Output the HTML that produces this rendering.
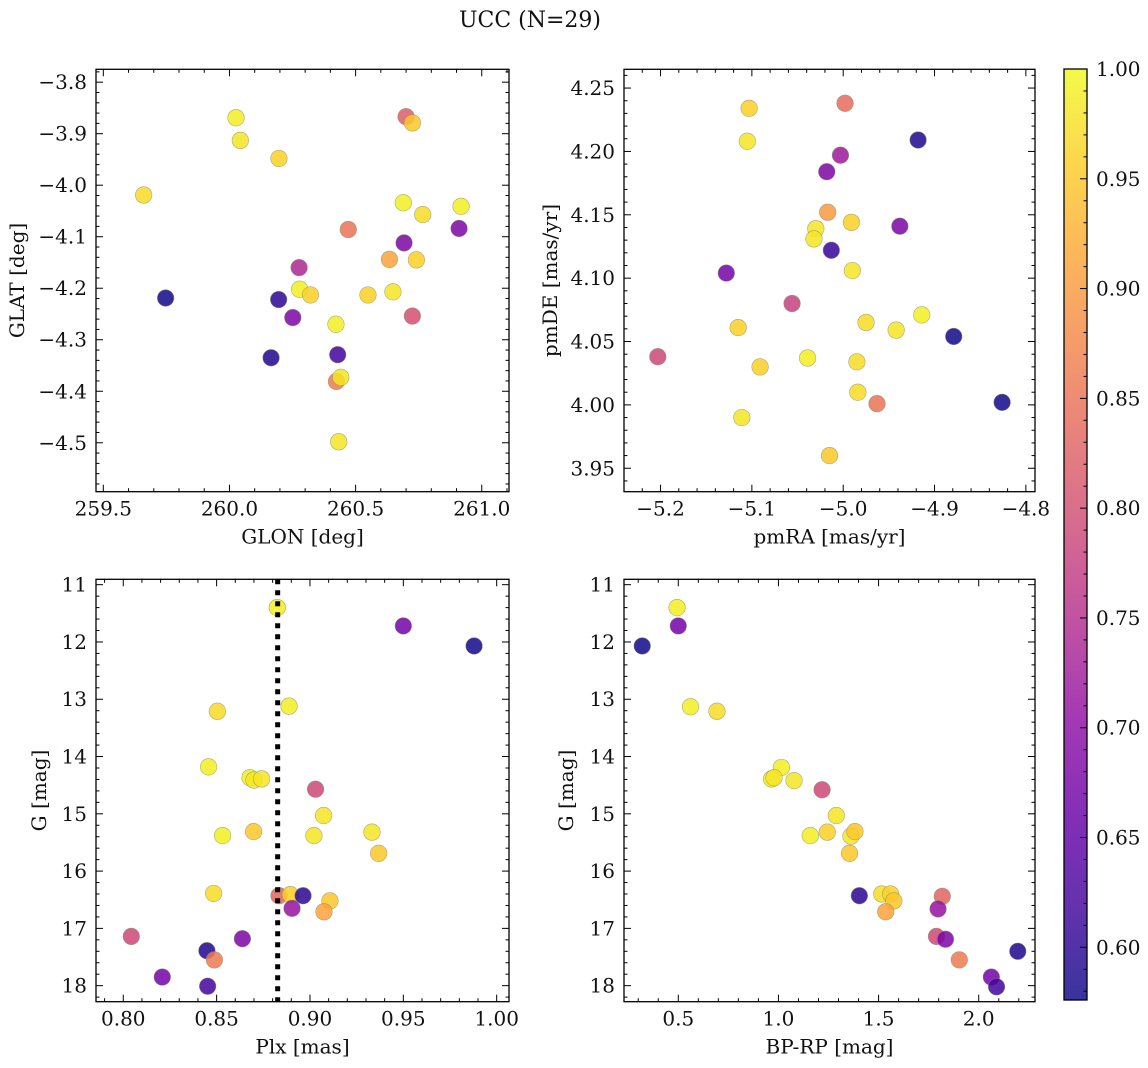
<!DOCTYPE html>
<html><head><meta charset="utf-8"><style>
html,body{margin:0;padding:0;background:#fff;}
svg{display:block;font-family:"DejaVu Serif","Liberation Serif",serif;}
</style></head><body>
<svg id="fig" width="1148" height="1068" viewBox="0 0 1148 1068" xmlns="http://www.w3.org/2000/svg">
<text x="530" y="27" font-size="22" text-anchor="middle" fill="#111">UCC (N=29)</text>
</svg>
<script>
// ---- data ----
const glon = [260.026,260.043,260.196,259.66,260.70,260.725,260.689,260.766,260.918,260.471,260.91,260.692,260.634,260.741,260.276,260.278,260.321,260.549,260.648,259.747,260.195,260.251,260.725,260.422,260.165,260.429,260.424,260.441,260.433];
const glat = [-3.869,-3.913,-3.948,-4.019,-3.867,-3.879,-4.034,-4.057,-4.041,-4.086,-4.084,-4.112,-4.144,-4.145,-4.160,-4.202,-4.213,-4.213,-4.207,-4.219,-4.222,-4.257,-4.254,-4.270,-4.335,-4.329,-4.381,-4.373,-4.498];
const prob1 = [0.99,0.98,0.96,0.97,0.82,0.95,0.99,0.97,0.99,0.85,0.68,0.68,0.91,0.96,0.74,0.99,0.96,0.96,0.98,0.58,0.60,0.68,0.80,0.99,0.59,0.62,0.86,0.98,0.98];
const pmra = [-5.103,-4.998,-5.105,-4.918,-5.003,-5.018,-5.017,-4.991,-5.030,-5.032,-4.938,-5.013,-5.128,-4.990,-5.056,-5.115,-4.975,-4.942,-4.914,-4.879,-5.203,-5.091,-5.039,-4.985,-4.984,-4.963,-4.826,-5.111,-5.015];
const pmde = [4.234,4.238,4.208,4.209,4.197,4.184,4.152,4.144,4.139,4.131,4.141,4.122,4.104,4.106,4.080,4.061,4.065,4.059,4.071,4.054,4.038,4.030,4.037,4.034,4.010,4.001,4.002,3.990,3.960];
const prob2 = [0.96,0.84,0.98,0.59,0.72,0.68,0.90,0.96,0.98,0.98,0.68,0.61,0.67,0.98,0.78,0.96,0.97,0.98,0.99,0.58,0.79,0.96,0.99,0.97,0.97,0.85,0.58,0.98,0.95];
const plx = [0.8825,0.950,0.9879,0.8888,0.8504,0.8457,0.8679,0.870,0.8741,0.903,0.9073,0.8532,0.8698,0.9021,0.9332,0.9368,0.8484,0.8834,0.8895,0.8963,0.9107,0.8904,0.9075,0.8043,0.8638,0.8448,0.8488,0.8209,0.8452];
const gmag3 = [11.40,11.72,12.07,13.12,13.21,14.18,14.37,14.41,14.39,14.57,15.03,15.38,15.31,15.38,15.32,15.69,16.39,16.43,16.41,16.43,16.52,16.65,16.71,17.14,17.18,17.39,17.55,17.85,18.01];
const prob3 = [0.99,0.67,0.58,0.99,0.97,0.99,0.99,0.98,0.98,0.79,0.98,0.99,0.95,0.98,0.98,0.95,0.97,0.83,0.96,0.60,0.95,0.71,0.91,0.79,0.68,0.59,0.86,0.67,0.62];
const bprp = [0.494,0.5,0.320,0.561,0.693,1.015,0.966,0.978,1.078,1.218,1.289,1.159,1.244,1.362,1.382,1.355,1.516,1.560,1.576,1.404,1.818,1.797,1.536,1.789,1.834,2.195,1.903,2.063,2.089];
const gmag4 = [11.40,11.72,12.07,13.13,13.21,14.19,14.39,14.37,14.42,14.58,15.03,15.38,15.32,15.39,15.31,15.69,16.40,16.40,16.52,16.43,16.44,16.66,16.71,17.14,17.19,17.40,17.55,17.85,18.02];
const prob4 = [0.99,0.67,0.58,0.99,0.97,0.99,0.99,0.98,0.98,0.79,0.98,0.99,0.96,0.98,0.95,0.95,0.97,0.96,0.95,0.60,0.83,0.71,0.91,0.79,0.68,0.59,0.86,0.67,0.62];
const plxMedian = 0.8827;
const cbTicks = [0.60,0.65,0.70,0.75,0.80,0.85,0.90,0.95,1.00];
const vmin = 0.576, vmax = 1.0;

const NS = "http://www.w3.org/2000/svg";
const svg = document.getElementById('fig');
const FS = 20;
function mk(tag, attrs, parent){const e=document.createElementNS(NS,tag);for(const k in attrs)e.setAttribute(k,attrs[k]);(parent||svg).appendChild(e);return e;}
const plasma=[[13,8,135],[65,4,157],[106,0,168],[143,13,164],[177,42,144],[204,71,120],[225,100,98],[242,132,75],[252,166,54],[252,206,37],[240,249,33]];
function cmap(v){let t=(v-vmin)/(vmax-vmin);t=Math.max(0,Math.min(1,t))*10;const i=Math.min(9,Math.floor(t)),f=t-i;const a=plasma[i],b=plasma[i+1];return 'rgb('+[0,1,2].map(k=>Math.round(a[k]+(b[k]-a[k])*f)).join(',')+')';}
function fmt(v,d){const s=Math.abs(v).toFixed(d);return (v<-1e-9?'\u2212':'')+s;}

function panel(o){
  const g=mk('g',{});
  
  
  const X=v=>o.L+(v-o.x0)/(o.x1-o.x0)*(o.R-o.L);
  const Y=v=>o.inv? o.T+(v-o.y0)/(o.y1-o.y0)*(o.B-o.T) : o.B-(v-o.y0)/(o.y1-o.y0)*(o.B-o.T);
  const ticks=mk('g',{stroke:'#000','stroke-width':1},g);
  
  
  const lo=Math.min(o.x0,o.x1),hi=Math.max(o.x0,o.x1);
  for(let v=Math.ceil(lo/o.xmin-1e-6)*o.xmin;v<=hi+1e-9;v+=o.xmin){const x=X(v);const maj=Math.abs(v/o.xmaj-Math.round(v/o.xmaj))<1e-4;const l=maj?7:3.5;
    mk('line',{x1:x,x2:x,y1:o.B,y2:o.B-l},ticks);mk('line',{x1:x,x2:x,y1:o.T,y2:o.T+l},ticks);
    if(maj){const t=mk('text',{x:x,y:o.B+24,'font-size':FS,'text-anchor':'middle',fill:'#111',stroke:'none'},g);t.textContent=fmt(v,o.xd);
      
      }}
  const ylo=Math.min(o.y0,o.y1),yhi=Math.max(o.y0,o.y1);
  for(let v=Math.ceil(ylo/o.ymin-1e-6)*o.ymin;v<=yhi+1e-9;v+=o.ymin){const y=Y(v);const maj=Math.abs(v/o.ymaj-Math.round(v/o.ymaj))<1e-4;const l=maj?7:3.5;
    mk('line',{x1:o.L,x2:o.L+l,y1:y,y2:y},ticks);mk('line',{x1:o.R,x2:o.R-l,y1:y,y2:y},ticks);
    if(maj){const t=mk('text',{x:o.L-9,y:y+7,'font-size':FS,'text-anchor':'end',fill:'#111'},g);t.textContent=fmt(v,o.yd);
      
      }}
  const pts=mk('g',{},g);
  
  
  for(let i=0;i<o.xs.length;i++){const c=mk('circle',{cx:X(o.xs[i]),cy:Y(o.ys[i]),r:8.3,fill:cmap(o.cs[i]),'fill-opacity':0.85,stroke:'#8a8a6a','stroke-width':0.6,'stroke-opacity':0.7},pts);
    
    }
  if(o.vline!==undefined){const l=mk('line',{x1:X(o.vline),x2:X(o.vline),y1:o.T,y2:o.B,stroke:'#000','stroke-width':5,'stroke-dasharray':'5 6'},g);
    
    }
  const fr=mk('rect',{x:o.L,y:o.T,width:o.R-o.L,height:o.B-o.T,fill:'none',stroke:'#000','stroke-width':1.3},g);
  
  
  const xl=mk('text',{x:(o.L+o.R)/2,y:o.B+52,'font-size':FS,'text-anchor':'middle',fill:'#111'},g);xl.textContent=o.xlabel;
  
  
  const yl=mk('text',{x:0,y:0,'font-size':FS,'text-anchor':'middle',fill:'#111',transform:'translate('+o.ylx+','+(o.T+o.B)/2+') rotate(-90)'},g);yl.textContent=o.ylabel;
  
  
}
panel({name:'glon-glat-panel',L:96,R:509,T:69.3,B:491.7,x0:259.471,x1:261.108,y0:-4.595,y1:-3.775,xmaj:0.5,xmin:0.1,ymaj:0.1,ymin:0.02,xd:1,yd:1,xs:glon,ys:glat,cs:prob1,xlabel:'GLON [deg]',ylabel:'GLAT [deg]',ylx:24});
panel({name:'pm-panel',L:624,R:1035,T:69.3,B:491.7,x0:-5.240,x1:-4.790,y0:3.9315,y1:4.2648,xmaj:0.1,xmin:0.02,ymaj:0.05,ymin:0.01,xd:1,yd:2,xs:pmra,ys:pmde,cs:prob2,xlabel:'pmRA [mas/yr]',ylabel:'pmDE [mas/yr]',ylx:557});
panel({name:'plx-g-panel',L:96,R:509,T:579.3,B:1001.7,x0:0.7854,x1:1.0066,y0:10.906,y1:18.28,inv:true,xmaj:0.05,xmin:0.01,ymaj:1,ymin:0.2,xd:2,yd:0,xs:plx,ys:gmag3,cs:prob3,xlabel:'Plx [mas]',ylabel:'G [mag]',ylx:46,vline:plxMedian});
panel({name:'cmd-panel',L:624,R:1035,T:579.3,B:1001.7,x0:0.229,x1:2.281,y0:10.906,y1:18.28,inv:true,xmaj:0.5,xmin:0.1,ymaj:1,ymin:0.2,xd:1,yd:0,xs:bprp,ys:gmag4,cs:prob4,xlabel:'BP-RP [mag]',ylabel:'G [mag]',ylx:573});

const cb=mk('g',{});


const CT=69,CB=1000,CL=1064,CR=1087;
const CY=v=>CB-(v-vmin)/(vmax-vmin)*(CB-CT);
const defs=mk('defs',{},cb);const grad=mk('linearGradient',{id:'pl',x1:0,y1:1,x2:0,y2:0},defs);
for(let i=0;i<=10;i++){mk('stop',{offset:i/10,'stop-color':'rgb('+plasma[i].join(',')+')'},grad);}
const bar=mk('rect',{x:CL,y:CT,width:CR-CL,height:CB-CT,fill:'url(#pl)','fill-opacity':0.82},cb);


mk('rect',{x:CL,y:CT,width:CR-CL,height:CB-CT,fill:'none',stroke:'#000','stroke-width':1.3},cb);
for(let k=58;k<=100;k++){const v=k/100;const y=CY(v);const maj=k%5===0;mk('line',{x1:CR,x2:CR-(maj?7:3.5),y1:y,y2:y,stroke:'#000','stroke-width':1},cb);}
cbTicks.forEach(v=>{const t=mk('text',{x:1096,y:CY(v)+7,'font-size':FS,fill:'#111'},cb);t.textContent=v.toFixed(2);
  
  });
</script>
</body></html>
